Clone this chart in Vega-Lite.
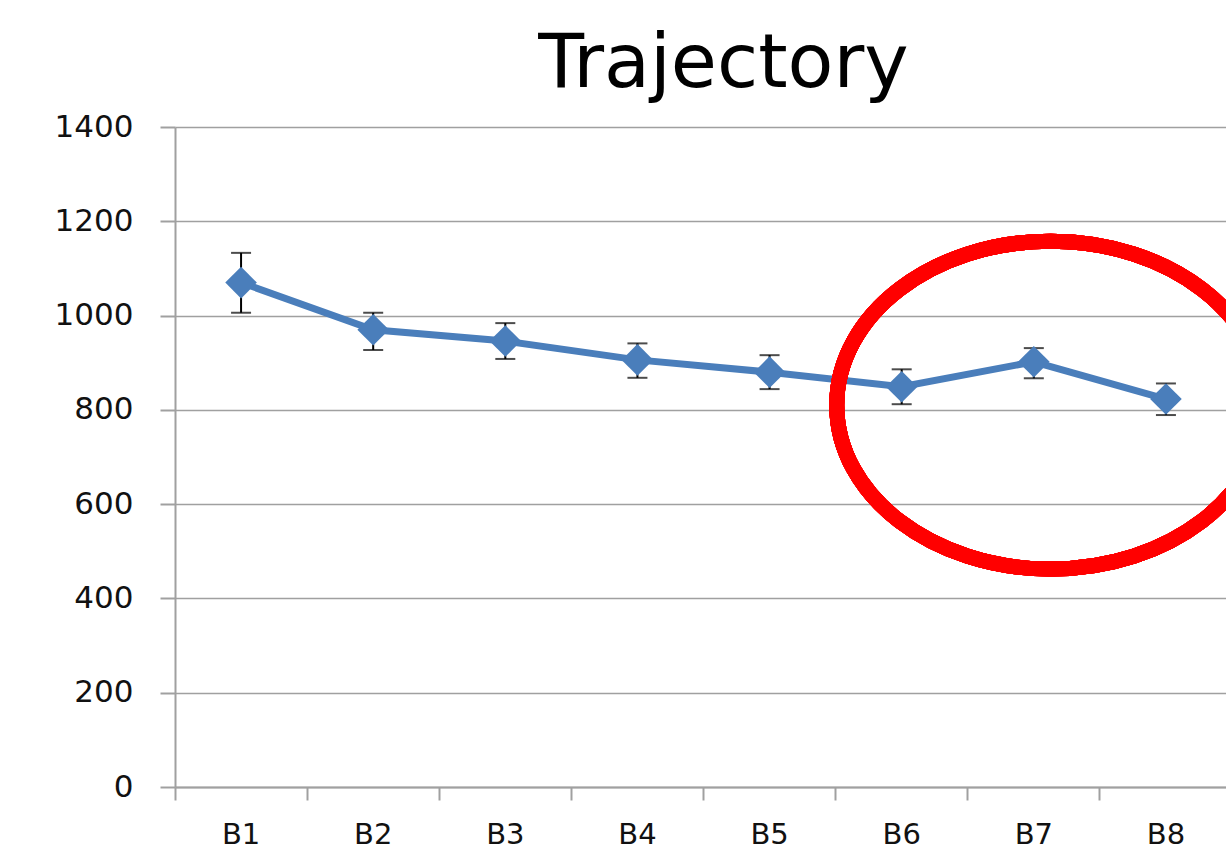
{
  "$schema": "https://vega.github.io/schema/vega-lite/v6.json",
  "width": 1051,
  "height": 660,
  "autosize": {"type": "none"},
  "padding": {"left": 175, "top": 127, "right": 0, "bottom": 58},
  "background": "white",
  "title": {
    "text": "Trajectory",
    "font": "DejaVu Sans",
    "fontSize": 75,
    "fontWeight": "normal",
    "color": "#000000",
    "anchor": "middle",
    "dx": 23,
    "dy": 86,
    "baseline": "alphabetic",
    "offset": 35
  },
  "config": {"view": {"stroke": null}},
  "data": {
    "values": [
      {"block": "B1", "value": 1070, "lo": 1006, "hi": 1133},
      {"block": "B2", "value": 970, "lo": 927, "hi": 1006},
      {"block": "B3", "value": 946, "lo": 908, "hi": 984},
      {"block": "B4", "value": 906, "lo": 868, "hi": 941},
      {"block": "B5", "value": 880, "lo": 844, "hi": 916},
      {"block": "B6", "value": 849, "lo": 812, "hi": 886},
      {"block": "B7", "value": 902, "lo": 867, "hi": 931},
      {"block": "B8", "value": 823, "lo": 789, "hi": 856}
    ]
  },
  "encoding": {
    "x": {
      "field": "block",
      "type": "ordinal",
      "scale": {"range": [0, 1057], "paddingInner": 0, "paddingOuter": 0},
      "axis": {
        "title": null,
        "labelAngle": 0,
        "labelFont": "DejaVu Sans",
        "labelFontSize": 29,
        "labelColor": "#111111",
        "domainColor": "#a0a0a0",
        "domainWidth": 2,
        "tickColor": "#a0a0a0",
        "tickWidth": 2,
        "tickSize": 13,
        "bandPosition": 0,
        "labelPadding": 20,
        "grid": false
      }
    }
  },
  "layer": [
    {
      "mark": {"type": "line", "color": "#4a7ebb", "strokeWidth": 7},
      "encoding": {
        "y": {
          "field": "value",
          "type": "quantitative",
          "scale": {"domain": [0, 1400], "nice": false},
          "axis": {
            "title": null,
            "values": [0, 200, 400, 600, 800, 1000, 1200, 1400],
            "format": "d",
            "labelFont": "DejaVu Sans",
            "labelFontSize": 31,
            "labelColor": "#111111",
            "labelPadding": 27,
            "tickSize": 15,
            "tickColor": "#a0a0a0",
            "tickWidth": 2,
            "domainColor": "#a0a0a0",
            "domainWidth": 2,
            "gridColor": "#a0a0a0",
            "gridWidth": 1.5,
            "grid": true
          }
        }
      }
    },
    {
      "mark": {"type": "rule", "color": "#000000", "strokeWidth": 2},
      "encoding": {
        "y": {"field": "lo", "type": "quantitative"},
        "y2": {"field": "hi"}
      }
    },
    {
      "mark": {"type": "tick", "color": "#000000", "thickness": 2, "size": 20, "orient": "horizontal"},
      "encoding": {"y": {"field": "lo", "type": "quantitative"}}
    },
    {
      "mark": {"type": "tick", "color": "#000000", "thickness": 2, "size": 20, "orient": "horizontal"},
      "encoding": {"y": {"field": "hi", "type": "quantitative"}}
    },
    {
      "mark": {"type": "point", "shape": "diamond", "filled": true, "size": 1000, "color": "#4a7ebb", "opacity": 1},
      "encoding": {"y": {"field": "value", "type": "quantitative"}}
    },
    {
      "mark": {
        "type": "point",
        "shape": "M-0.934,0C-0.934,-0.4291,-0.48,-0.777,0.08,-0.777C0.64,-0.777,1.094,-0.4291,1.094,0C1.094,0.4291,0.64,0.777,0.08,0.777C-0.48,0.777,-0.934,0.4291,-0.934,0Z",
        "filled": false,
        "stroke": "#ff0000",
        "strokeWidth": 15,
        "opacity": 1,
        "size": 178084
      },
      "encoding": {
        "x": {"datum": "B7"},
        "y": {"datum": 810, "type": "quantitative"}
      }
    }
  ]
}
